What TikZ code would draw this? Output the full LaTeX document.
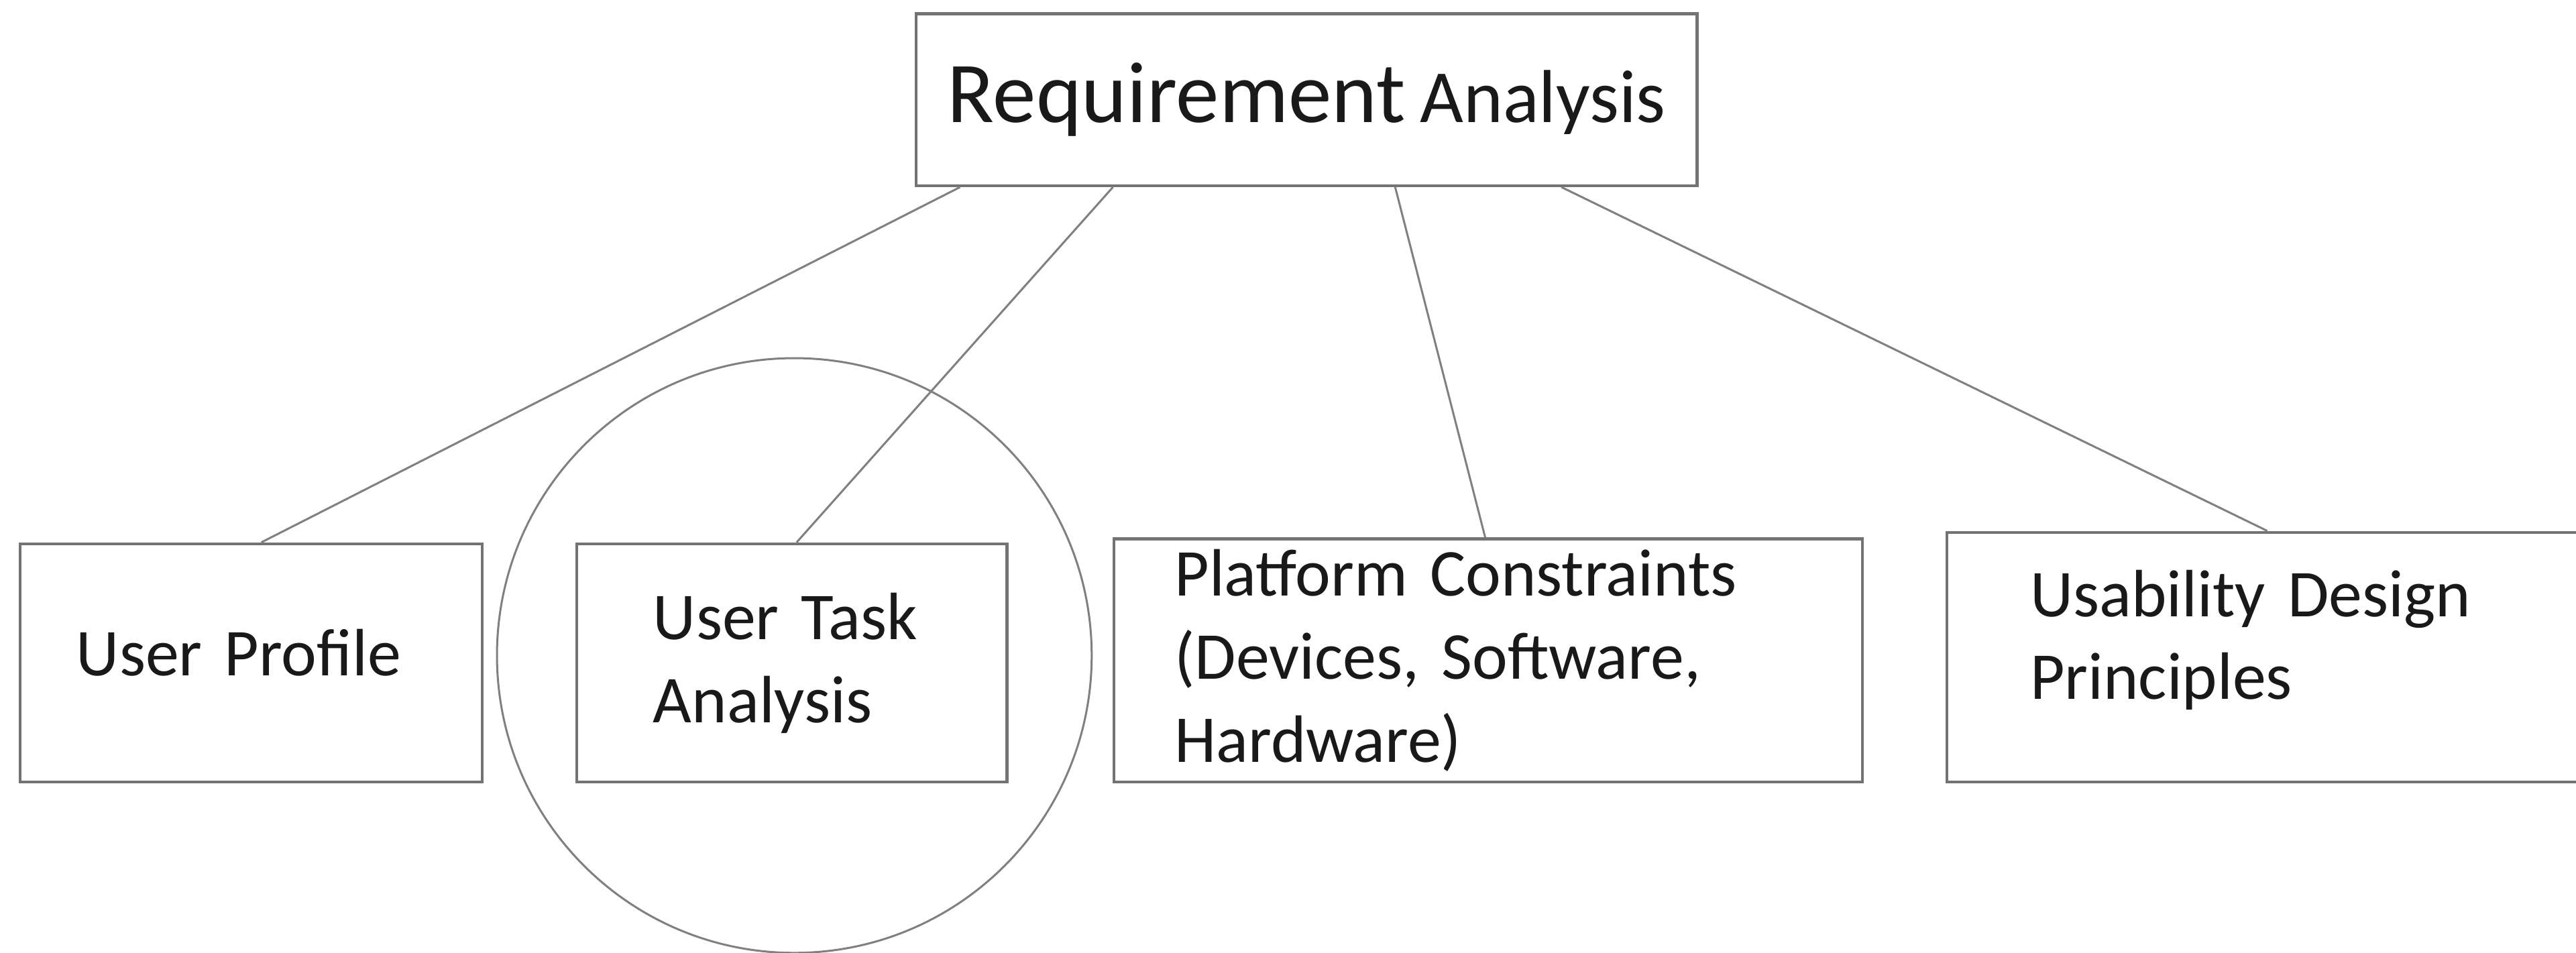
\documentclass[tikz,border=0pt]{standalone}
\usepackage{fontspec}
\setmainfont{Carlito}
\usetikzlibrary{positioning}
\usetikzlibrary{calc}
\tikzstyle{box}=[rectangle,draw=black!55,line width=0.5pt,align=left,inner sep=0pt,text=black!90,font=\fontsize{11.6}{14.4}\selectfont]
\tikzstyle{plain}=[]
\tikzstyle{oneline}=[text depth=0.13cm]
\tikzstyle{raised}=[text depth=0.78cm]
\tikzstyle{ring}=[circle,draw=black!50,line width=0.35pt,inner sep=0pt]
\tikzstyle{link} = [draw,black!50,line width=0.35pt]

\begin{document}
\begin{tikzpicture}
    \useasboundingbox (0,0) rectangle (15.68,-5.80);
    % The analysis box on top
    \node[box, minimum width=4.754cm, minimum height=1.046cm] (req) at (7.953,-0.607)
        {{\fontsize{15}{18}\selectfont Requirement} {\fontsize{13}{16}\selectfont Analysis}};

    % Then the four boxes below it
    \foreach \pos/\name/\w/\h/\tw/\opt/\txt in {{(1.5285,-4.035)/up/2.813/1.45/2.127/oneline/{User Profile}},
        {(4.82,-4.035)/ut/2.62/1.45/1.688/plain/{User Task\\Analysis}},
        {(9.0585,-4.02)/pc/4.557/1.48/3.818/plain/{Platform Constraints\\(Devices, Software,\\Hardware)}},
        {(13.80,-4.00)/ud/3.90/1.52/2.886/raised/{Usability Design\\Principles}}}
        \node[box, minimum width=\w cm, minimum height=\h cm, text width=\tw cm, \opt] (\name) at \pos {\txt};

    % Circle round the task analysis
    \node[ring, minimum size=3.62cm] (focus) at (4.835,-3.99) {};

    % Connect the top box with the ones below
    \foreach \a/\dest/\b in {0.058/up/0.522, 0.253/ut/0.511, 0.613/pc/0.496, 0.825/ud/0.5}
        \path[link] ($(req.south west)!\a!(req.south east)$) -- ($(\dest.north west)!\b!(\dest.north east)$);

\end{tikzpicture}
\end{document}
